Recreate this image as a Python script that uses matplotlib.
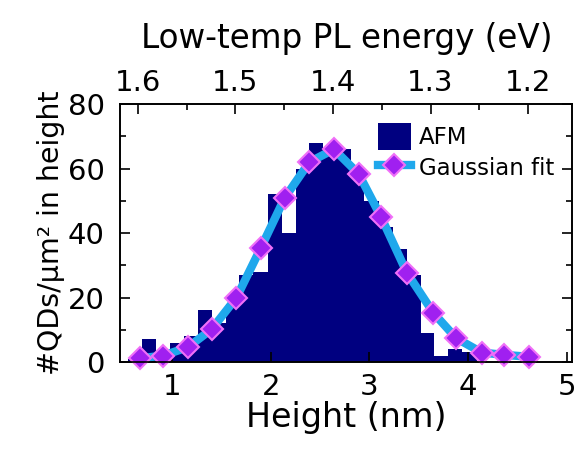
import numpy as np
import matplotlib
matplotlib.use("Agg")
import matplotlib.pyplot as plt

plt.rcParams['font.family'] = ['DejaVu Sans']

# AFM height histogram (nm, counts per um^2)
bin_edges = [0.55, 0.69, 0.83, 0.98, 1.12, 1.26, 1.40, 1.54, 1.68, 1.82, 1.97,
             2.11, 2.25, 2.39, 2.53, 2.67, 2.81, 2.95, 3.10, 3.24, 3.38,
             3.52, 3.66, 3.80, 3.94, 4.09]
counts = [1, 7, 3, 6, 8, 16, 12, 18, 27, 28, 52, 40, 60, 68, 65, 66, 59,
          50, 42, 35, 27, 9, 2, 4, 3]

# Gaussian fit points
fit_h = [0.67, 0.91, 1.16, 1.40, 1.65, 1.90, 2.14, 2.39, 2.64, 2.89, 3.12,
         3.38, 3.65, 3.88, 4.14, 4.37, 4.62]
fit_y = [1.1, 2.0, 4.6, 10.2, 19.9, 35.5, 50.9, 62.0, 66.0, 58.4, 44.9,
         27.7, 15.2, 7.4, 2.9, 2.2, 1.6]

# top axis: PL energy ticks (eV)
energy_ticks = [1.6, 1.5, 1.4, 1.3, 1.2]


def h2e(h):
    return 1.4 - 0.10104 * (np.asarray(h) - 2.6304)


fig = plt.figure(figsize=(5.8, 4.53), dpi=100)
ax = fig.add_axes([0.207, 0.201, 0.78, 0.569])

edges = np.array(bin_edges)
bars = ax.bar(edges[:-1], counts, width=np.diff(edges), align='edge',
              color='#000080', edgecolor='none', label='AFM')
line, = ax.plot(fit_h, fit_y, '-', color='#1fa8ec', lw=6,
                marker='D', ms=11, mfc='#a020f0', mec='#f070f8', mew=1.5,
                label='Gaussian fit', clip_on=False, zorder=3)

ax.set_xlim(0.47, 5.06)
ax.set_ylim(0, 80)
ax.set_xticks([1, 2, 3, 4, 5])
ax.set_yticks([0, 20, 40, 60, 80])
ax.set_yticks([10, 30, 50, 70], minor=True)
ax.tick_params(axis='both', which='both', direction='in', labelsize=21,
               right=True, top=False)
ax.tick_params(which='major', length=7, width=1.2)
ax.tick_params(which='minor', length=4, width=1.2)
ax.tick_params(axis='x', pad=8)
ax.tick_params(axis='y', pad=11)
ax.set_xlabel('Height (nm)', fontsize=24, labelpad=0)
ax.set_ylabel('#QDs/μm² in height', fontsize=20.5, labelpad=2)

# top energy axis
ax2 = ax.twiny()
ax2.set_xlim(h2e(0.47), h2e(5.06))
ax2.set_xticks(energy_ticks)
ax2.set_xticks([1.55, 1.45, 1.35, 1.25], minor=True)
ax2.tick_params(axis='x', which='both', direction='in', labelsize=21, pad=5)
ax2.tick_params(which='major', length=7, width=1.2)
ax2.tick_params(which='minor', length=4, width=1.2)
ax2.set_xlabel('Low-temp PL energy (eV)', fontsize=23.5, labelpad=15)

for a in (ax, ax2):
    for s in a.spines.values():
        s.set_linewidth(1.2)

ax.legend([bars, line], ['AFM', 'Gaussian fit'], loc='upper right',
          frameon=False, fontsize=16.5, handlelength=1.45, handleheight=1.5,
          handletextpad=0.35, labelspacing=0.15, borderaxespad=0.5,
          borderpad=0.3)

fig.savefig('out.png', dpi=100)
